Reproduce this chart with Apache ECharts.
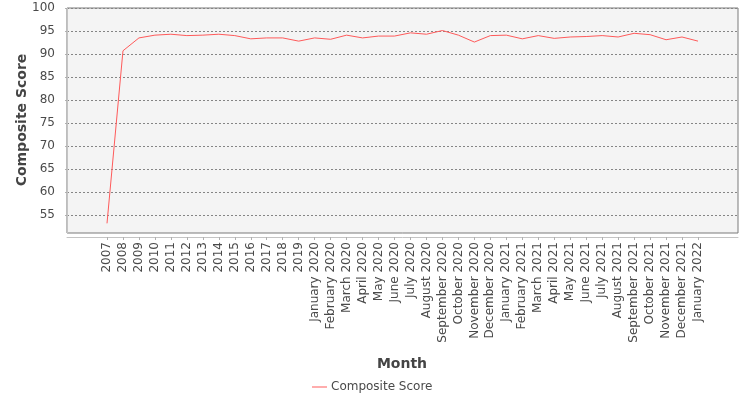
<!DOCTYPE html>
<html>
<head>
<meta charset="utf-8">
<script src="https://cdn.jsdelivr.net/npm/echarts@6/dist/echarts.min.js"></script>
<style>
html,body{margin:0;padding:0;background:#fff;}
#chart{width:750px;height:400px;}
</style>
</head>
<body>
<div id="chart"></div>
<script>
const categories = ['2007','2008','2009','2010','2011','2012','2013','2014','2015','2016','2017','2018','2019',
  'January 2020','February 2020','March 2020','April 2020','May 2020','June 2020','July 2020','August 2020','September 2020','October 2020','November 2020','December 2020',
  'January 2021','February 2021','March 2021','April 2021','May 2021','June 2021','July 2021','August 2021','September 2021','October 2021','November 2021','December 2021',
  'January 2022'];
const compositeScore = [53.2, 90.7, 93.5, 94.1, 94.3, 94.0, 94.1, 94.3, 94.0, 93.3, 93.5, 93.5, 92.8,
  93.5, 93.2, 94.1, 93.5, 93.9, 93.9, 94.6, 94.3, 95.1, 94.1, 92.6, 94.0,
  94.1, 93.3, 94.0, 93.4, 93.7, 93.8, 94.0, 93.7, 94.5, 94.2, 93.1, 93.7,
  92.8];
const yTicks = [55, 60, 65, 70, 75, 80, 85, 90, 95, 100];
const yMin = 51.1, yMax = 100;

const FONT = 'DejaVu Sans';
const chart = echarts.init(document.getElementById('chart'), null, {renderer: 'canvas'});
chart.setOption({
  animation: false,
  backgroundColor: '#ffffff',
  textStyle: {fontFamily: FONT},
  grid: [
    {left: 67, right: 12, top: 8, bottom: 167, show: true, backgroundColor: '#f4f4f4', borderColor: '#7a7a7a', borderWidth: 1},
    {left: 107, right: 52, top: 8, bottom: 167}
  ],
  xAxis: [
    {gridIndex: 0, type: 'value', min: 0, max: 1, offset: 4,
     axisLine: {show: true, lineStyle: {color: '#c4c4c4', width: 1}},
     axisTick: {show: false}, axisLabel: {show: false}, splitLine: {show: false}},
    {gridIndex: 1, type: 'category', data: categories, boundaryGap: false, offset: 4,
     axisLine: {show: false},
     axisTick: {show: true, length: 3, lineStyle: {color: '#b0b0b0'}},
     axisLabel: {rotate: 90, interval: 0, margin: 5, fontSize: 12, color: '#4a4a4a', fontFamily: FONT},
     splitLine: {show: false}}
  ],
  yAxis: [
    {gridIndex: 0, type: 'value', min: yMin, max: yMax, offset: 4,
     axisLine: {show: true, lineStyle: {color: '#c4c4c4', width: 1}},
     axisTick: {show: true, length: 2, customValues: yTicks, lineStyle: {color: '#b0b0b0'}},
     axisLabel: {customValues: yTicks, margin: 8, fontSize: 12, color: '#4a4a4a', fontFamily: FONT},
     splitLine: {show: true, lineStyle: {color: '#858585', type: [2, 2], width: 1}}},
    {gridIndex: 1, type: 'value', min: yMin, max: yMax, show: false, splitLine: {show: false}}
  ],
  legend: {
    data: ['Composite Score'], left: 312, top: 381, padding: 0,
    icon: 'rect', itemWidth: 15, itemHeight: 1, itemGap: 10,
    textStyle: {fontSize: 12, color: '#4a4a4a', fontFamily: FONT, padding: [0, 0, 0, -1]}
  },
  graphic: [
    {type: 'text', x: 22, y: 120, rotation: Math.PI / 2,
     style: {text: 'Composite Score', font: 'bold 14px "DejaVu Sans"', fill: '#444', textAlign: 'center', textVerticalAlign: 'middle'}},
    {type: 'text', x: 402, y: 364,
     style: {text: 'Month', font: 'bold 14px "DejaVu Sans"', fill: '#444', textAlign: 'center', textVerticalAlign: 'middle'}}
  ],
  series: [
    {name: 'Composite Score', type: 'line', xAxisIndex: 1, yAxisIndex: 1, data: compositeScore,
     showSymbol: false, symbol: 'none',
     lineStyle: {color: '#ff5a5a', width: 1}, itemStyle: {color: '#ff5a5a'}}
  ]
});
</script>
</body>
</html>
